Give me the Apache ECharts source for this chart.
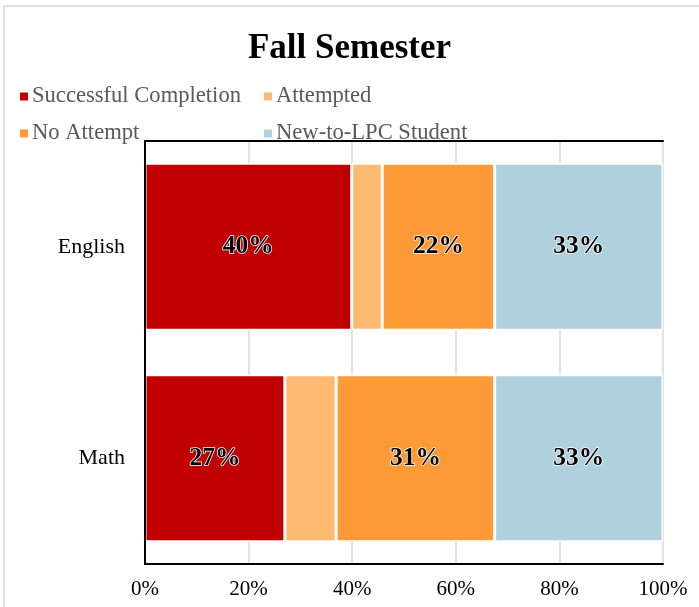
<!DOCTYPE html>
<html><head><meta charset="utf-8">
<script src="https://cdn.jsdelivr.net/npm/echarts@6/dist/echarts.min.js"></script>
<style>html,body{margin:0;padding:0;background:#fff}#c{width:699px;height:607px}</style>
</head><body><div id="c"></div>
<script>
const categories = ['English', 'Math'];
const successful = [0.399, 0.270];
const attempted = [0.059, 0.099];
const noAttempt = [0.217, 0.306];
const newToLPC = [0.325, 0.325];
const xTicks = ['0%', '20%', '40%', '60%', '80%', '100%'];
const seriesNames = ['Successful Completion', 'Attempted', 'No Attempt', 'New-to-LPC Student'];
const colors = ['#C00000', '#FFBA71', '#FF9A36', '#AFD1DF'];

const FONT = '"Liberation Serif", "Times New Roman", serif';
const chart = echarts.init(document.getElementById('c'), null, {renderer: 'canvas'});
const values = [successful, attempted, noAttempt, newToLPC];
const labelStyle = {
  show: true, position: 'inside', fontFamily: FONT, fontWeight: 'bold', fontSize: 25.5,
  color: '#000', textBorderColor: '#fff', textBorderWidth: 1.5,
  formatter: p => Math.round(p.value * 100) + '%'
};
const frameLine = {show: true, lineStyle: {color: '#000', width: 2}};
const legendText = {fontFamily: FONT, fontSize: 22.6, color: '#595959', padding: [0, 0, 0, -2]};
chart.setOption({
  animation: false,
  graphic: [{type: 'rect', shape: {x: 4, y: 6, width: 700, height: 610}, style: {fill: 'none', stroke: '#d9d9d9', lineWidth: 1.5}, silent: true, z: -10}],
  title: {text: 'Fall Semester', left: 'center', top: 26,
    textStyle: {fontFamily: FONT, fontWeight: 'bold', fontSize: 35, color: '#000'}},
  legend: [
    {data: [seriesNames[0], seriesNames[2]], orient: 'vertical', left: 13, top: 80, itemGap: 14,
     itemWidth: 10, itemHeight: 10, icon: 'rect', textStyle: legendText},
    {data: [seriesNames[1], seriesNames[3]], orient: 'vertical', left: 257, top: 80, itemGap: 14,
     itemWidth: 10, itemHeight: 10, icon: 'rect', textStyle: legendText}
  ],
  grid: {left: 145, right: 36, top: 141, bottom: 43, show: false, containLabel: false},
  xAxis: [
    {type: 'value', min: 0, max: 1, interval: 0.2, position: 'bottom', z: 5,
     axisLine: frameLine, axisTick: {show: false}, splitLine: {show: false},
     axisLabel: {fontFamily: FONT, fontSize: 21, color: '#000', margin: 15,
       formatter: v => xTicks[Math.round(v * 5)]}},
    {type: 'value', min: 0, max: 1, interval: 0.2, position: 'top', z: 0,
     axisLine: frameLine, axisTick: {show: false}, axisLabel: {show: false},
     splitLine: {show: true, lineStyle: {color: '#d9d9d9', width: 1.5}}}
  ],
  yAxis: [
    {type: 'category', data: categories, inverse: true, position: 'left', z: 5,
     axisLine: frameLine, axisTick: {show: false},
     axisLabel: {fontFamily: FONT, fontSize: 22, color: '#000', margin: 20}},
    {type: 'category', data: categories, inverse: true, position: 'right', z: 5,
     axisLine: frameLine, axisTick: {show: false}, axisLabel: {show: false}}
  ],
  series: seriesNames.map((n, i) => ({
    name: n, type: 'bar', stack: 'total', data: values[i], barWidth: '79%',
    xAxisIndex: 0, yAxisIndex: 0,
    itemStyle: {color: colors[i], borderColor: '#fff', borderWidth: 1.5},
    label: i === 1 ? {show: false} : labelStyle
  }))
});
</script></body></html>
